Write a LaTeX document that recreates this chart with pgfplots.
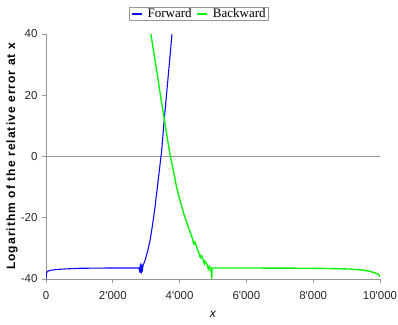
\documentclass[border=0pt]{standalone}
\usepackage{fontspec}
\setmainfont{Liberation Sans}
\newfontfamily\legfont{Liberation Serif}
\usepackage{pgfplots}
\pgfplotsset{compat=1.18}
\definecolor{fwdblue}{RGB}{10,10,245}
\definecolor{bwdgreen}{RGB}{10,245,10}
\definecolor{axgray}{RGB}{150,150,150}
\begin{document}
\begin{tikzpicture}
\begin{axis}[
  at={(0,0)}, anchor=south west,
  scale only axis, width=334pt, height=245pt,
  xmin=0, xmax=10000, ymin=-40, ymax=40,
  scaled x ticks=false, scaled y ticks=false,
  axis x line*=bottom, axis y line*=left,
  axis line style={axgray, line width=0.8pt},
  tick style={axgray, line width=0.8pt},
  tick align=outside, major tick length=4pt,
  xtick={0,2000,4000,6000,8000,10000},
  xticklabels={0,2\textquotesingle000,4\textquotesingle000,6\textquotesingle000,8\textquotesingle000,10\textquotesingle000},
  ytick={-40,-20,0,20,40},
  yticklabels={-40,-20,0,20,40},
  ticklabel style={font=\fontsize{11.5}{12}\selectfont, text=black!85},
  xticklabel style={yshift=-5pt},
  yticklabel style={xshift=-1pt},
  xlabel={\fontsize{12}{13}\selectfont\textit{x}},
  xlabel style={at={(axis description cs:0.5,0)}, anchor=center, yshift=-35pt},
  ylabel={\fontsize{12}{13}\selectfont\bfseries\addfontfeatures{LetterSpace=9}Logarithm of the relative error at x},
  ylabel style={at={(axis description cs:0,0.5)}, anchor=center, yshift=34pt},
  clip=true,
  legend style={at={(rel axis cs:0.458,1.082)}, anchor=center, draw=axgray, font=\legfont\fontsize{13}{14}\selectfont, legend columns=2, inner xsep=2pt, inner ysep=0.5pt, column sep=4pt, nodes={inner sep=1pt}, legend cell align=left},
  legend image code/.code={\draw[#1, line width=1.3pt] plot coordinates {(0pt,0pt) (10pt,0pt)};},
]
\addplot[color=axgray, line width=0.6pt, forget plot] coordinates {(0,0) (10000,0)};
\addplot[color=fwdblue, line width=1.1pt] coordinates {
(0,-40) (8,-38.6) (20,-37.9) (50,-37.5) (120,-37.2) (300,-36.9) (600,-36.7) (1000,-36.5) (1500,-36.45) (2000,-36.4) (2500,-36.4) (2780,-36.4)
(2800,-37.2) (2815,-36.2) (2830,-38.0) (2845,-36.1) (2860,-37.3) (2875,-36.0) (2890,-36.8) (2905,-35.6)
(2964,-34) (3040,-31) (3114,-27.5) (3190,-22.3) (3263,-16.6) (3330,-10.4) (3393,-4.6) (3464,2) (3542,12.3) (3620,21.6) (3700,31.2) (3772,40) (3800,43.5)
};
\addlegendentry{Forward}
\addplot[color=bwdgreen, line width=1.4pt] coordinates {
(3100,45) (3135,40.3) (3250,32.5) (3350,25.5) (3450,18.3) (3542,12.3) (3620,6.8) (3692,2) (3812,-4.6) (3910,-10) (4012,-14.4) (4140,-19.2) (4261,-23.1)
(4380,-26.6) (4420,-28.5) (4460,-27.9) (4511,-29.6) (4580,-31.6) (4620,-33) (4650,-32.4) (4700,-33.6) (4740,-35) (4760,-34.2) (4830,-35.4) (4860,-36.8) (4890,-35.9) (4910,-36.2) (4940,-37.5) (4955,-36.3) (4962,-40) (4970,-36.4)
(5200,-36.4) (6000,-36.4) (7000,-36.45) (8000,-36.5) (8600,-36.6) (9100,-36.75) (9500,-37.1) (9700,-37.5) (9850,-38) (9950,-38.5) (10000,-39.2)
};
\addlegendentry{Backward}
\end{axis}
\pgfresetboundingbox
\path[use as bounding box] (-46pt,-45pt) rectangle (352pt,279pt);
\end{tikzpicture}
\end{document}
